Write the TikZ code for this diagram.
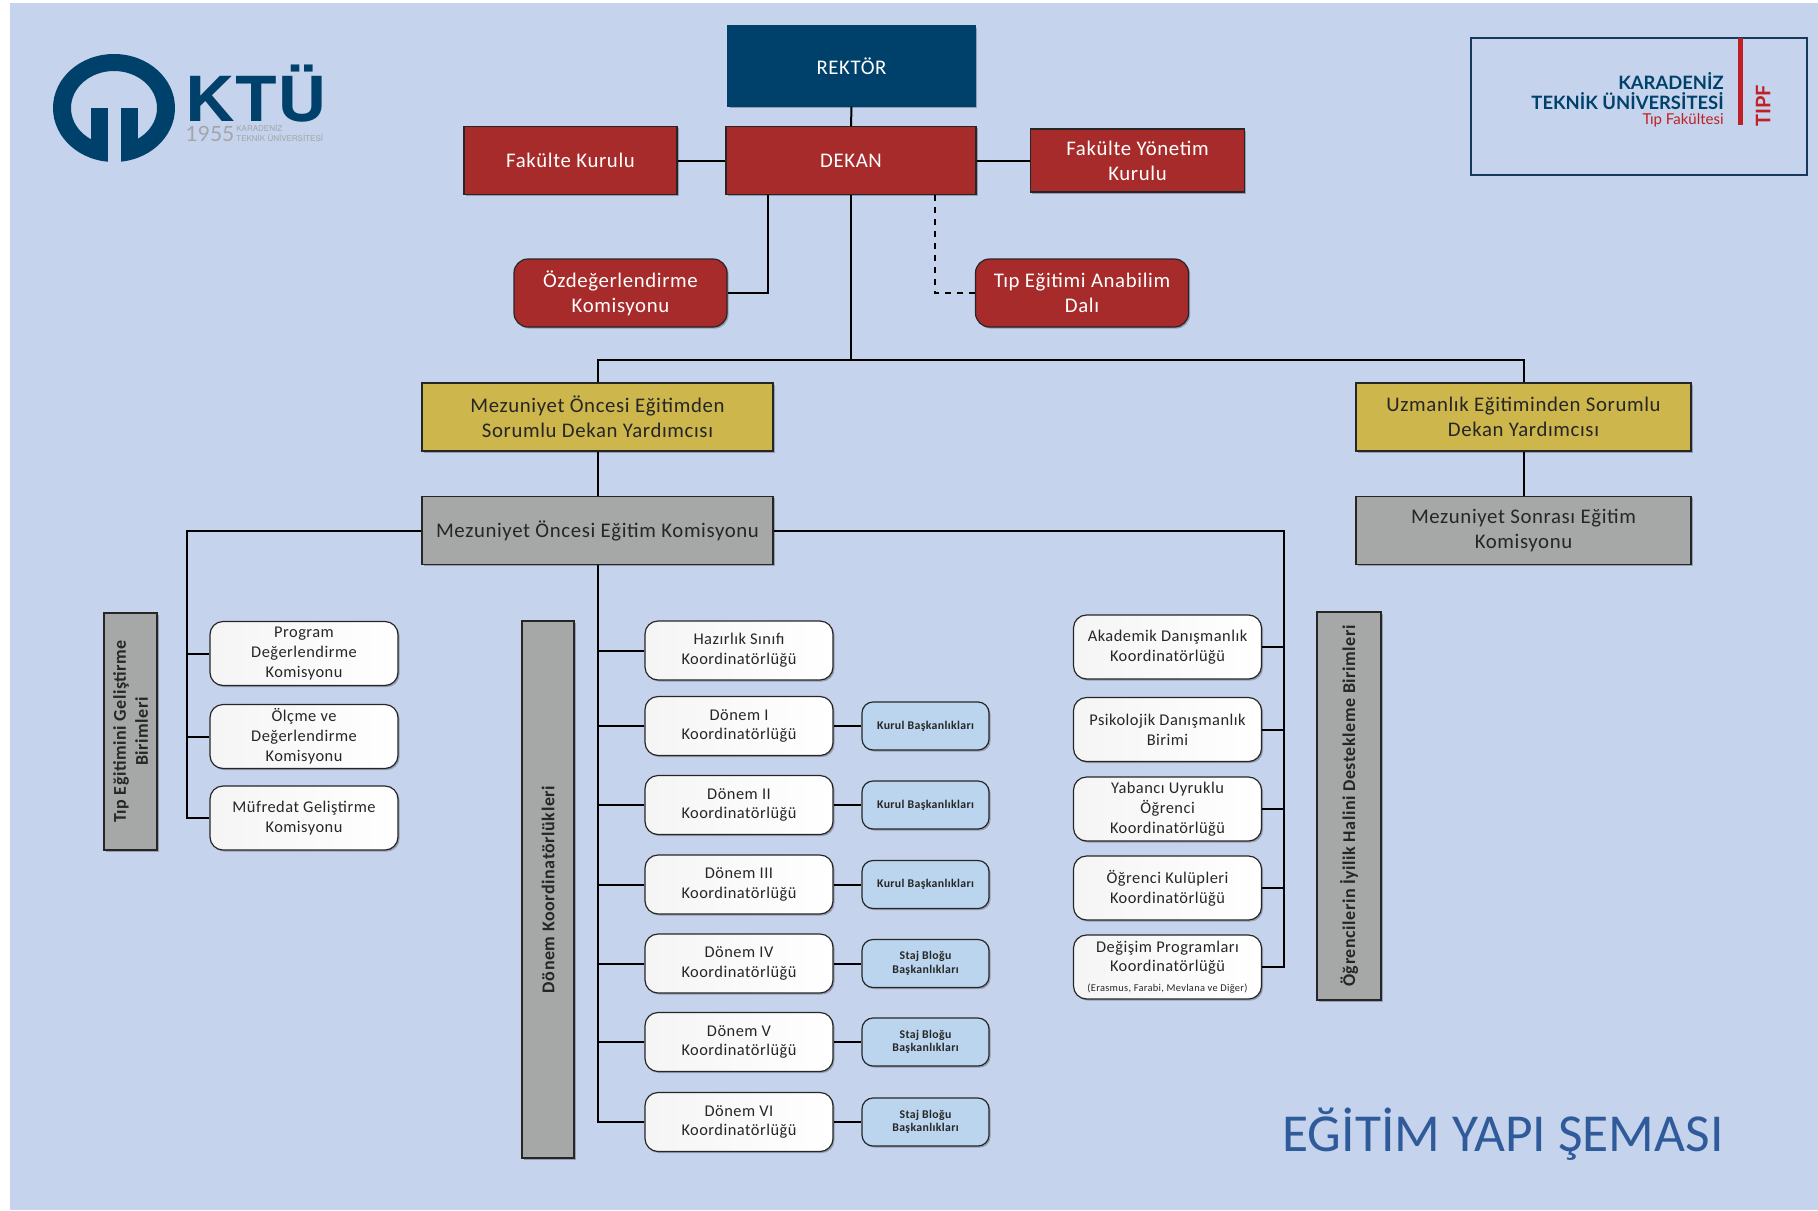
\documentclass[tikz,border=0pt]{standalone}
\usepackage{fontspec}
\setmainfont[LetterSpace=3]{Carlito}
\newfontfamily\titlefont{Carlito}
\newfontfamily\logofont{TeX Gyre Heros}
\newfontfamily\yearfont{Lato}
\usetikzlibrary{shadows}
\definecolor{bgblue}{HTML}{C5D3EC}
\definecolor{navy}{HTML}{00416B}
\definecolor{dred}{HTML}{A72B2B}
\definecolor{dyellow}{HTML}{CDB64C}
\definecolor{dgray}{HTML}{A6A8A8}
\definecolor{lblue}{HTML}{BBD5EE}
\definecolor{ink}{HTML}{262626}
\definecolor{titleblue}{HTML}{2F5B9A}
\definecolor{lineblue}{HTML}{173A5A}
\definecolor{logogray}{HTML}{A3A5A8}
\definecolor{tipred}{HTML}{BE2026}
\tikzset{
    softshadow/.style={drop shadow={shadow xshift=0.8pt,shadow yshift=-0.8pt,opacity=0.25,fill=black}},
    box/.style={draw=ink,line width=0.6pt,inner sep=0pt,align=center,softshadow,font=\fontsize{10.4}{12.4}\selectfont},
    redbox/.style={box,fill=dred,text=white,minimum height=34pt},
    redround/.style={redbox,rounded corners=7pt,minimum width=106.5pt},
    yellowbox/.style={box,fill=dyellow,text=ink,minimum height=34pt},
    graybox/.style={box,fill=dgray,text=ink,minimum height=34pt},
    sidebar/.style={box,fill=dgray,text=ink,rotate=90,font=\fontsize{9}{11}\selectfont\bfseries},
    unitbox/.style={box,rounded corners=6.5pt,left color=black!4,right color=white,text=ink,minimum width=94pt,minimum height=32pt,font=\fontsize{8.2}{9.9}\selectfont},
    donembox/.style={unitbox,minimum height=29.5pt},
    subbox/.style={box,rounded corners=5.5pt,fill=lblue,text=ink,minimum width=63.5pt,minimum height=24pt,font=\fontsize{5.9}{6.8}\selectfont\bfseries},
    link/.style={draw=black,line width=1pt},
}
\begin{document}
\begin{tikzpicture}[x=0.5pt,y=-0.5pt]
    \useasboundingbox (0,0) rectangle (1818,1210);
    \fill[white] (0,0) rectangle (1818,1210);
    \fill[bgblue] (10,3) rectangle (1818,1210);

    % Logo %
    \fill[navy,even odd rule] (114,108) ellipse [x radius=61,y radius=54] (114,108) ellipse [x radius=43,y radius=37];
    \fill[navy] (91,108) rectangle (108,156);
    \fill[navy] (121,108) rectangle (138,156);
    \fill[bgblue] (108,140) rectangle (121,165);
    \node[text=navy,font=\logofont\bfseries\fontsize{31}{31}\selectfont,inner sep=0pt] (ktu) at (256,93.5) {\scalebox{1.1}[1]{KTÜ}};
    \node[text=logogray,font=\yearfont\fontsize{10.5}{10.5}\selectfont,inner sep=0pt] (year) at (210,134) {1955};
    \node[text=logogray,font=\logofont\fontsize{4}{4.6}\selectfont,inner sep=0pt,align=left,anchor=west] (ktuname) at (236,133) {KARADENİZ\\TEKNİK ÜNİVERSİTESİ};

    % Faculty logo box %
    \node[draw=lineblue,line width=0.8pt,inner sep=0pt,minimum width=168pt,minimum height=68.5pt] (logobox) at (1639,106.5) {};
    \fill[tipred] (1737.5,38) rectangle (1742.5,125);
    \node[text=navy,font=\yearfont\bfseries\fontsize{9.2}{9.2}\selectfont,anchor=east,inner sep=0pt] (karadeniz) at (1724,81.5) {KARADENİZ};
    \node[text=navy,font=\yearfont\bfseries\fontsize{9.2}{9.2}\selectfont,anchor=east,inner sep=0pt] (teknik) at (1724,101) {TEKNİK ÜNİVERSİTESİ};
    \node[text=tipred,font=\yearfont\fontsize{7.5}{7.5}\selectfont,anchor=east,inner sep=0pt] (tipfak) at (1724,120.5) {Tıp Fakültesi};
    \node[text=tipred,font=\yearfont\bfseries\fontsize{10}{10}\selectfont,rotate=90,inner sep=0pt] (tipf) at (1763,106) {TIPF};

    % Top level %
    \node[box,draw=navy,fill=navy,text=white,minimum width=123.5pt,minimum height=40pt] (rektor) at (851.5,66) {REKTÖR};
    \node[redbox,minimum width=125pt] (dekan) at (851,160.5) {DEKAN};
    \node[redbox,minimum width=106.5pt] (fakKurul) at (570.5,160.5) {Fakülte Kurulu};
    \node[redbox,minimum width=107pt,minimum height=31.5pt] (fakYonetim) at (1137.5,160.5) {Fakülte Yönetim\\Kurulu};
    \node[redround] (ozdeg) at (620.5,293) {Özdeğerlendirme\\Komisyonu};
    \node[redround] (tipEgitim) at (1082,293) {Tıp Eğitimi Anabilim\\Dalı};

    % Vice deans %
    \node[yellowbox,minimum width=175.5pt] (moDekan) at (597.5,417) {Mezuniyet Öncesi Eğitimden\\Sorumlu Dekan Yardımcısı};
    \node[yellowbox,minimum width=167.5pt] (uzDekan) at (1523.5,417) {Uzmanlık Eğitiminden Sorumlu\\Dekan Yardımcısı};
    \node[graybox,minimum width=175.5pt] (moKom) at (597.5,530.5) {Mezuniyet Öncesi Eğitim Komisyonu};
    \node[graybox,minimum width=167.5pt] (msKom) at (1523.5,530.5) {Mezuniyet Sonrası Eğitim\\Komisyonu};

    % Side bars %
    \node[sidebar,minimum width=118.5pt,minimum height=26.5pt] (barTip) at (130.5,731.5) {Tıp Eğitimini Geliştirme\\Birimleri};
    \node[sidebar,minimum width=268.5pt,minimum height=26pt] (barDonem) at (548,889.5) {Dönem Koordinatörlükleri};
    \node[sidebar,minimum width=194pt,minimum height=32pt] (barIyilik) at (1349,806) {Öğrencilerin İyilik Halini Destekleme Birimleri};

    % Left units %
    \node[unitbox] (program) at (304,653.5) {Program\\Değerlendirme\\Komisyonu};
    \node[unitbox] (olcme) at (304,736.5) {Ölçme ve\\Değerlendirme\\Komisyonu};
    \node[unitbox] (mufredat) at (304,818) {Müfredat Geliştirme\\Komisyonu};

    % Term coordinators %
    \node[donembox] (hazirlik) at (739,650.5) {Hazırlık Sınıfı\\Koordinatörlüğü};
    \node[donembox] (donemA) at (739,726) {Dönem I\\Koordinatörlüğü};
    \node[donembox] (donemB) at (739,805) {Dönem II\\Koordinatörlüğü};
    \node[donembox] (donemC) at (739,884.5) {Dönem III\\Koordinatörlüğü};
    \node[donembox] (donemD) at (739,963.5) {Dönem IV\\Koordinatörlüğü};
    \node[donembox] (donemE) at (739,1042) {Dönem V\\Koordinatörlüğü};
    \node[donembox] (donemF) at (739,1122) {Dönem VI\\Koordinatörlüğü};

    \node[subbox] (kurulA) at (925.5,726) {Kurul Başkanlıkları};
    \node[subbox] (kurulB) at (925.5,805) {Kurul Başkanlıkları};
    \node[subbox] (kurulC) at (925.5,884.5) {Kurul Başkanlıkları};
    \node[subbox] (stajD) at (925.5,963.5) {Staj Bloğu\\Başkanlıkları};
    \node[subbox] (stajE) at (925.5,1042) {Staj Bloğu\\Başkanlıkları};
    \node[subbox] (stajF) at (925.5,1122) {Staj Bloğu\\Başkanlıkları};

    % Right units %
    \node[unitbox] (akademik) at (1167.5,647) {Akademik Danışmanlık\\Koordinatörlüğü};
    \node[unitbox] (psikolojik) at (1167.5,729.5) {Psikolojik Danışmanlık\\Birimi};
    \node[unitbox] (yabanci) at (1167.5,809) {Yabancı Uyruklu\\Öğrenci\\Koordinatörlüğü};
    \node[unitbox] (kulup) at (1167.5,888) {Öğrenci Kulüpleri\\Koordinatörlüğü};
    \node[unitbox] (degisim) at (1167.5,967) {Değişim Programları\\Koordinatörlüğü\\{\fontsize{5.2}{5.6}\selectfont(Erasmus, Farabi, Mevlana ve Diğer)}};

    % Junctions %
    \coordinate (dekanL) at (767.5,195);
    \coordinate (dekanR) at (935,195);
    \coordinate (split) at (851,360);
    \coordinate (leftTrunk) at (187,530.5);
    \coordinate (midTrunk) at (598,565);
    \coordinate (rightTrunk) at (1284,530.5);

    % Top connectors %
    \draw[link] (rektor.south) -- (dekan.north);
    \draw[link] (fakKurul.east) -- (dekan.west);
    \draw[link] (dekan.east) -- (fakYonetim.west);
    \draw[link] (dekanL) |- (ozdeg.east);
    \draw[link,dashed] (dekanR) |- (tipEgitim.west);
    \draw[link] (dekan.south) -- (split);
    \draw[link] (moDekan.north) |- (split) -| (uzDekan.north);
    \draw[link] (moDekan.south) -- (moKom.north);
    \draw[link] (uzDekan.south) -- (msKom.north);

    % Trunks %
    \draw[link] (moKom.west) -- (leftTrunk) |- (mufredat.west);
    \draw[link] (leftTrunk) |- (program.west);
    \draw[link] (leftTrunk) |- (olcme.west);
    \draw[link] (moKom.east) -- (rightTrunk) |- (degisim.east);
    \draw[link] (rightTrunk) |- (akademik.east);
    \draw[link] (rightTrunk) |- (psikolojik.east);
    \draw[link] (rightTrunk) |- (yabanci.east);
    \draw[link] (rightTrunk) |- (kulup.east);
    \draw[link] (midTrunk) |- (donemF.west);
    \draw[link] (midTrunk) |- (hazirlik.west);
    \draw[link] (midTrunk) |- (donemA.west);
    \draw[link] (midTrunk) |- (donemB.west);
    \draw[link] (midTrunk) |- (donemC.west);
    \draw[link] (midTrunk) |- (donemD.west);
    \draw[link] (midTrunk) |- (donemE.west);

    \draw[link] (donemA.east) -- (kurulA.west);
    \draw[link] (donemB.east) -- (kurulB.west);
    \draw[link] (donemC.east) -- (kurulC.west);
    \draw[link] (donemD.east) -- (stajD.west);
    \draw[link] (donemE.east) -- (stajE.west);
    \draw[link] (donemF.east) -- (stajF.west);

    % Title %
    \node[text=titleblue,font=\titlefont\fontsize{26.7}{26.7}\selectfont,inner sep=0pt] (title) at (1503,1134) {EĞİTİM YAPI ŞEMASI};
\end{tikzpicture}
\end{document}
